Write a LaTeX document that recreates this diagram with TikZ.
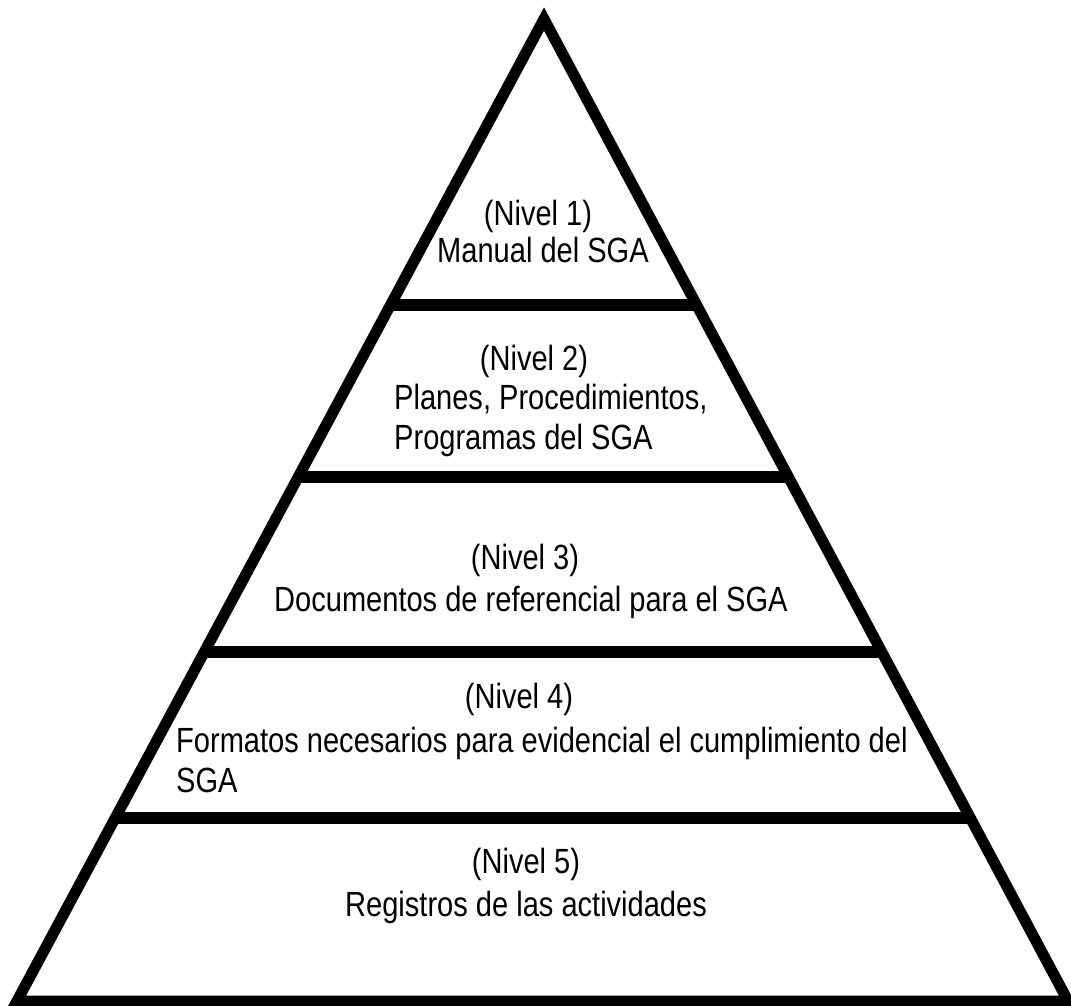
\documentclass[tikz,border=0pt]{standalone}
\usepackage{fontspec}
\setmainfont{Liberation Sans}[FakeStretch=0.83]
\usetikzlibrary{calc}
\begin{document}
\begin{tikzpicture}[x=1pt,y=-1pt,
  edge/.style={line width=11pt, line join=miter},
  bar/.style={line width=11.5pt},
  lbl/.style={inner sep=0pt, font=\fontsize{35}{42}\selectfont}]
\useasboundingbox (0,0) rectangle (1071,1006);
\coordinate (apex) at (544,19);
\coordinate (bl) at (17,1001);
\coordinate (br) at (1068,1001);
\draw[edge] (apex) -- (bl) -- (br) -- cycle;
\foreach \y/\n in {305/1,477/2,652/3,818/4} {
  \pgfmathsetmacro\t{(\y-19)/982}
  \coordinate (L\n) at ($(apex)!\t!(bl)$);
  \coordinate (R\n) at ($(apex)!\t!(br)$);
  \draw[bar] (L\n) -- (R\n);
}
% Level 1
\node[lbl, anchor=base] (n1) at (538,225) {(Nivel 1)};
\node[lbl, anchor=base west] (t1) at (437,262) {Manual del SGA};
% Level 2
\node[lbl, anchor=base] (n2) at (534,370) {(Nivel 2)};
\node[lbl, anchor=base west] (t2a) at (394,409) {Planes, Procedimientos,};
\node[lbl, anchor=base west] (t2b) at (394,449) {Programas del SGA};
% Level 3
\node[lbl, anchor=base] (n3) at (525,569) {(Nivel 3)};
\node[lbl, anchor=base west] (t3) at (274,611) {Documentos de referencial para el SGA};
% Level 4
\node[lbl, anchor=base] (n4) at (519,708) {(Nivel 4)};
\node[lbl, anchor=base west] (t4a) at (176,752) {Formatos necesarios para evidencial el cumplimiento del};
\node[lbl, anchor=base west] (t4b) at (176,792) {SGA};
% Level 5
\node[lbl, anchor=base] (n5) at (526,873) {(Nivel 5)};
\node[lbl, anchor=base west] (t5) at (345,916) {Registros de las actividades};
\end{tikzpicture}
\end{document}
